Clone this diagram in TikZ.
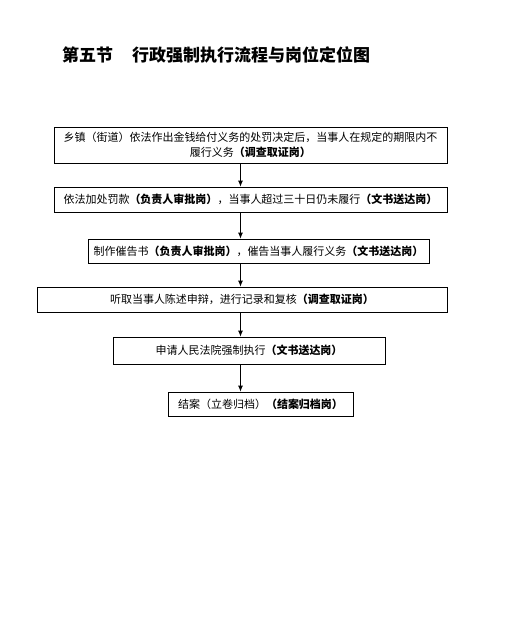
\documentclass[tikz,border=0pt]{standalone}
\usepackage{fontspec}
\setmainfont{Noto Sans CJK SC}
\usetikzlibrary{arrows.meta,positioning}

\begin{document}
\begin{tikzpicture}[
  x=1pt, y=-1pt,
  box/.style={rectangle, draw=black, line width=0.8pt, align=center, inner sep=0pt, font=\fontsize{11}{15}\selectfont},
  title/.style={anchor=west, inner sep=0pt, font=\fontsize{17}{20}\selectfont\bfseries},
  arrow/.style={-{Latex[length=6pt,width=5pt]}, line width=0.8pt, draw=black}
]
\useasboundingbox (0,0) rectangle (522,622);
\node[title] (head) at (62,55) {第五节\hspace{19pt}行政强制执行流程与岗位定位图};

\node[box, minimum width=393pt, minimum height=36pt] (notice) at (250.5,145) {乡镇（街道）依法作出金钱给付义务的处罚决定后，当事人在规定的期限内不\\履行义务\textbf{（调查取证岗）}};
\node[box, minimum width=393pt, minimum height=25pt] (fine) at (250.5,199.5) {依法加处罚款\textbf{（负责人审批岗）}，当事人超过三十日仍未履行\textbf{（文书送达岗）}};
\node[box, minimum width=341pt, minimum height=24pt] (urge) at (258.5,251) {制作催告书\textbf{（负责人审批岗）}，催告当事人履行义务\textbf{（文书送达岗）}};
\node[box, minimum width=410pt, minimum height=25pt] (hear) at (242,299.5) {听取当事人陈述申辩，进行记录和复核\textbf{（调查取证岗）}};
\node[box, minimum width=272pt, minimum height=27pt] (court) at (249,350.5) {申请人民法院强制执行\textbf{（文书送达岗）}};
\node[box, minimum width=185pt, minimum height=24pt] (close) at (260.5,404) {结案（立卷归档）\textbf{（结案归档岗）}};

\coordinate (spine) at (240.5,0);
\draw[arrow] (notice.south -| spine) -- (fine.north -| spine);
\draw[arrow] (fine.south -| spine) -- (urge.north -| spine);
\draw[arrow] (urge.south -| spine) -- (hear.north -| spine);
\draw[arrow] (hear.south -| spine) -- (court.north -| spine);
\draw[arrow] (court.south -| spine) -- (close.north -| spine);
\end{tikzpicture}
\end{document}
